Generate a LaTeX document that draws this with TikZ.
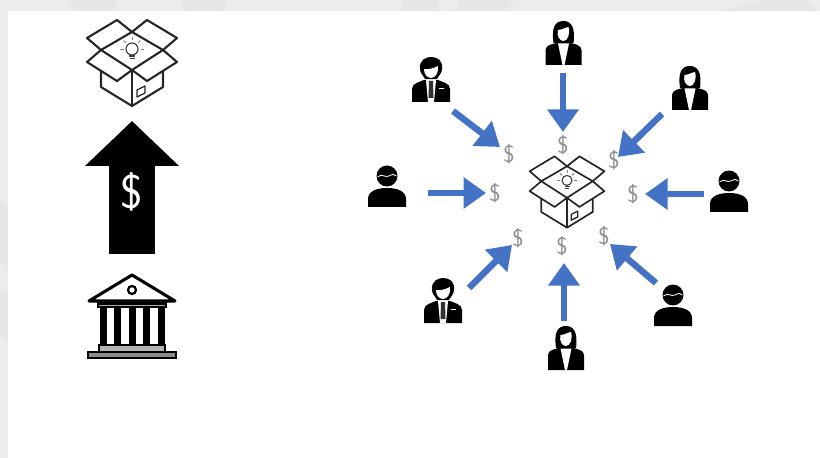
\documentclass[tikz,border=0pt]{standalone}
\usepackage{xcolor}
\usepackage{tikz}
\usetikzlibrary{calc}
\usetikzlibrary{arrows.meta}

\definecolor{flowblue}{HTML}{4472C4}
\definecolor{dollargray}{HTML}{909090}
\definecolor{framegray}{HTML}{ECECEC}
\definecolor{stripegray}{HTML}{E6E6E6}

\tikzset{
	flow/.style={draw=flowblue,line width=4.6pt,-{Triangle[length=16pt,width=21.5pt,fill=flowblue]}},
	dollar/.style={text=dollargray,font=\sffamily\fontsize{17}{19}\selectfont,inner sep=0pt},
	boxline/.style={draw=black!85,line join=round},
	opened box/.pic={
		\draw[boxline] (0,-31) -- (-15,-43) -- (-45,-25) -- (-31,-13) -- (0,-31) -- (31,-13) -- (45,-25) -- (15,-43) -- cycle;
		\draw[boxline] (-31,-13) -- (0,7) -- (31,-13);
		\draw[boxline] (-31,-13) -- (-45,-1) -- (-15,18) -- (0,7) -- (15,18) -- (45,-1) -- (31,-13);
		\draw[boxline] (-31,8) -- (-31,24) -- (0,43) -- (31,24) -- (31,8);
		\draw[boxline] (0,7) -- (0,43);
		\draw[boxline,line width=.9pt] (5,27) -- (13,23) -- (13,30) -- (5,34) -- cycle;
		\draw[black!75,line width=.8pt] (0,-14) circle (6);
		\draw[black!75,line width=.8pt] (-3,-7) -- (3,-7) (-2.5,-4.5) -- (2.5,-4.5);
		\foreach \ang in {0,45,90,135,180}
			\draw[black!50,line width=.7pt] ($(0,-14)+(-\ang:8.5)$) -- ($(0,-14)+(-\ang:12)$);
	},
	bank/.pic={
		\draw[line width=2.2pt,line join=round,fill=white] (-43,-7) -- (0,-33) -- (43,-7) -- cycle;
		\draw[line width=1.6pt] (0,-18) circle (4);
		\fill[black] (-35,-6) rectangle (35,0);
		\fill[black!35] (-33,-3.5) rectangle (33,-2.2);
		\foreach \colx in {-29,-14.5,0,14.5,29}
			\fill[black] (\colx-3.5,0) rectangle (\colx+3.5,37);
		\draw[line width=1.4pt,fill=black!30] (-33,37) rectangle (33,44);
		\draw[line width=1.6pt,fill=black!45] (-44,44) rectangle (44,50);
	},
	plain man/.pic={
		\fill[black] (0,-12) circle (10.5);
		\draw[white,line width=.6pt] (-9.5,-11) .. controls (-5,-15) and (-2,-10) .. (2,-12) .. controls (5,-14) and (8,-14) .. (9.5,-12);
		\fill[black] (-19,19) -- (-19,11) .. controls (-19,3) and (-10,0) .. (0,0) .. controls (10,0) and (19,3) .. (19,11) -- (19,19) -- cycle;
	},
	suit man/.pic={
		\fill[black] (-11,-14) .. controls (-12,-23) and (-5,-26) .. (0,-26) .. controls (7,-26) and (12,-22) .. (11,-14) .. controls (11,-10) and (8,-8) .. (6,-4) -- (-6,-4) .. controls (-8,-8) and (-11,-10) .. (-11,-14) -- cycle;
		\fill[white] (-7,-14) .. controls (-3,-13) and (3,-15) .. (7,-17) .. controls (8,-10) and (4,-5) .. (0,-5) .. controls (-4,-5) and (-7,-9) .. (-7,-14) -- cycle;
		\fill[black] (-19,19) -- (-19,6) .. controls (-19,0) and (-11,-1) .. (-7,-3) -- (7,-3) .. controls (11,-1) and (19,0) .. (19,6) -- (19,19) -- cycle;
		\fill[white] (-5,-3) -- (5,-3) -- (3,19) -- (-3,19) -- cycle;
		\fill[black!80] (-2,-2) -- (2,-2) -- (2.5,15) -- (-2.5,15) -- cycle;
		\fill[white] (8,5) rectangle (13,6.2);
	},
	lady/.pic={
		\fill[black] (-10,-1) .. controls (-12,-16) and (-9,-23) .. (0,-23) .. controls (8,-23) and (12,-16) .. (10,-1) -- cycle;
		\fill[white] (-5.5,-14) .. controls (-2,-14) and (3,-17) .. (5,-17) .. controls (7,-10) and (4,-3) .. (0,-3) .. controls (-4,-3) and (-7,-8) .. (-5.5,-14) -- cycle;
		\fill[black] (-18,21) -- (-18,6) .. controls (-18,1) and (-11,0) .. (-7,-1) -- (7,-1) .. controls (11,0) and (18,1) .. (18,6) -- (18,21) -- cycle;
		\fill[white] (-5.5,-.5) -- (5.5,-.5) -- (1,21) -- (-1,21) -- cycle;
	}
}

\begin{document}
\begin{tikzpicture}[x=0.025cm,y=-0.025cm]
	\useasboundingbox (0,0) rectangle (820,458);
	% frame
	\fill[framegray] (0,0) rectangle (820,458);
	\foreach \xa/\xb/\xc/\xd in {68/118/76/112,180/228/186/222,403/439/403/439,515/460/505/455,808/765/816/723}
		\fill[stripegray] (\xa,0) -- (\xb,0) -- (\xd,11) -- (\xc,11) -- cycle;
	\fill[stripegray] (0,200) -- (8,206) -- (8,273) -- (0,258) -- cycle;
	\fill[stripegray] (0,292) -- (8,293) -- (8,340) -- (0,336) -- cycle;
	\fill[white] (8,11) rectangle (820,458);

	% left side
	\pic[line width=1.5pt] at (132,63) {opened box};
	\pic at (132,308) {bank};
	\coordinate (bankTop) at (132,254);
	\coordinate (boxBottom) at (132,121);
	\draw[line width=32.7pt,-{Triangle[length=32pt,width=65pt]}] (bankTop) -- (boxBottom);
	\node[text=white,font=\sffamily\fontsize{34}{38}\selectfont,inner sep=0pt] (bigDollar) at (132,192) {\$};

	% right side
	\pic[line width=1.2pt,scale=.83] at (567,192) {opened box};
	\node[dollar] (dN) at (563,145) {\$};
	\node[dollar] (dNE) at (614,160) {\$};
	\node[dollar] (dE) at (633,194) {\$};
	\node[dollar] (dSE) at (604,236) {\$};
	\node[dollar] (dS) at (562,246) {\$};
	\node[dollar] (dSW) at (518,238) {\$};
	\node[dollar] (dW) at (495,193) {\$};
	\node[dollar] (dNW) at (509,154) {\$};

	\pic (pN) at (563.5,44) {lady};
	\pic (pNE) at (690,89) {lady};
	\pic (pE) at (729,193) {plain man};
	\pic (pSE) at (673,307) {plain man};
	\pic (pS) at (566,349) {lady};
	\pic (pSW) at (443,304) {suit man};
	\pic (pW) at (387,188) {plain man};
	\pic (pNW) at (431,83) {suit man};

	\coordinate (fromN) at (563,73);
	\coordinate (toN) at (563,132);
	\coordinate (fromNE) at (662,114);
	\coordinate (toNE) at (618,157);
	\coordinate (fromE) at (704,194);
	\coordinate (toE) at (645,194);
	\coordinate (fromSE) at (656,283);
	\coordinate (toSE) at (610,244);
	\coordinate (fromS) at (564,321);
	\coordinate (toS) at (564,263);
	\coordinate (fromSW) at (469,288);
	\coordinate (toSW) at (512,245);
	\coordinate (fromW) at (428,193);
	\coordinate (toW) at (486,193);
	\coordinate (fromNW) at (453,111);
	\coordinate (toNW) at (500,147);
	\foreach \dir in {N,NE,E,SE,S,SW,W,NW}
		\draw[flow] (from\dir) -- (to\dir);
\end{tikzpicture}
\end{document}
